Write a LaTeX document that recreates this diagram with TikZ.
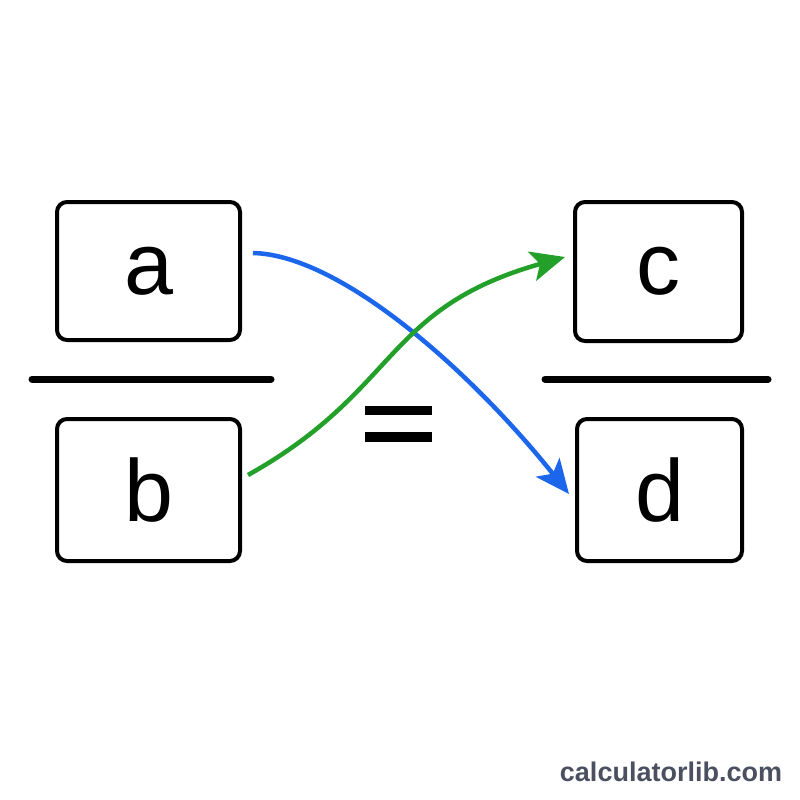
\documentclass[tikz,border=0pt]{standalone}
\usepackage{fontspec}
\setmainfont{Liberation Sans}
\usetikzlibrary{arrows.meta}
\definecolor{swapblue}{RGB}{28,102,236}
\definecolor{swapgreen}{RGB}{34,160,42}
\definecolor{markgray}{RGB}{74,80,96}
\tikzset{
	fracbox/.style={draw, line width=4pt, rounded corners=10pt, inner sep=0pt, font=\fontsize{88}{88}\selectfont},
	fracline/.style={line width=7pt, line cap=round},
	swap/.style={line width=4.5pt, -{Stealth[length=34pt, width=30pt, inset=8pt]}},
}
\begin{document}
\begin{tikzpicture}[x=1pt, y=-1pt]
	\useasboundingbox (0,0) rectangle (800,800);
	\node[fracbox, minimum width=183pt, minimum height=138pt] (a) at (148.5, 271) {a};
	\node[fracbox, minimum width=183pt, minimum height=142pt] (b) at (148.5, 490) {b};
	\node[fracbox, minimum width=167pt, minimum height=139pt] (c) at (658.5, 271.5) {c};
	\node[fracbox, minimum width=165pt, minimum height=142pt] (d) at (659.5, 490) {d};
	\draw[fracline] (32, 379) -- (271, 379);
	\draw[fracline] (545, 379) -- (768, 379);
	\fill (365, 406) rectangle (432, 415);
	\fill (365, 432) rectangle (432, 442);
	\coordinate (afrom) at (253, 253);
	\coordinate (bfrom) at (248, 475);
	\coordinate (cto) at (565, 257);
	\coordinate (dto) at (569, 494);
	\draw[swap, swapblue] (afrom) .. controls (340, 255) and (470, 370) .. (dto);
	\draw[swap, swapgreen] (bfrom) .. controls (400, 390) and (383, 308) .. (cto);
	\node[font=\fontsize{27}{27}\selectfont\bfseries, text=markgray] (mark) at (671, 772) {calculatorlib.com};
\end{tikzpicture}
\end{document}
